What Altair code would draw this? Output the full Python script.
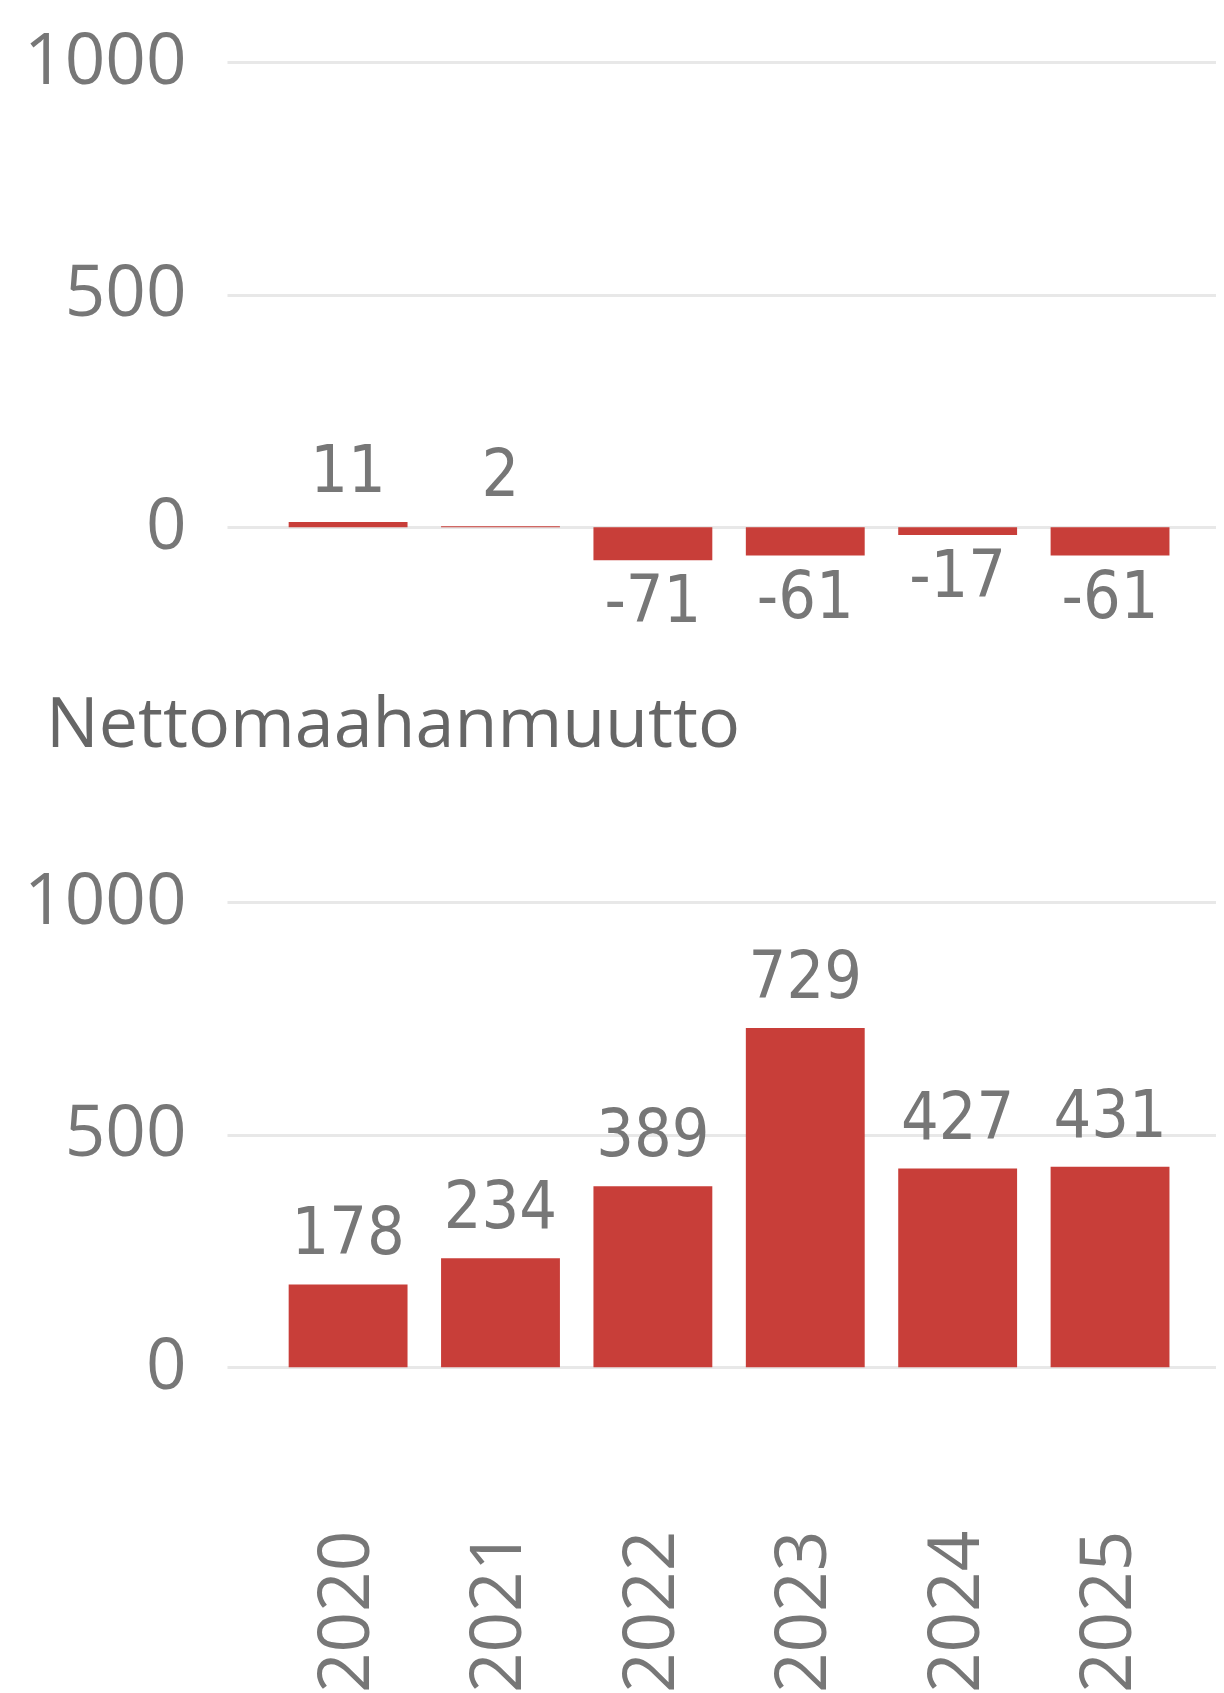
import altair as alt
import pandas as pd

# ---- data ----
years = ["2020", "2021", "2022", "2023", "2024", "2025"]
top_values = [11, 2, -71, -61, -17, -61]
net_immigration = [178, 234, 389, 729, 427, 431]
bottom_title = "Nettomaahanmuutto"
y_ticks = [0, 500, 1000]

RED = "#C83E39"
GRID = "#E8E8E8"
LABEL = "#777777"
TITLE = "#666666"
AXIS_FONT = "Open Sans"
VALUE_FONT = "Liberation Sans Narrow, DejaVu Sans Condensed, sans-serif"

top_df = pd.DataFrame({"year": years, "value": top_values})
bot_df = pd.DataFrame({"year": years, "value": net_immigration})

PLOT_W = 989


def x_scale():
    return alt.Scale(domain=years, paddingInner=0.22, paddingOuter=0.355, align=0.57)


def y_axis():
    return alt.Axis(values=y_ticks, format="d", title=None, grid=True, gridColor=GRID,
                    gridWidth=3, domain=False, ticks=False, labelFont=AXIS_FONT,
                    labelFontSize=71, labelColor=LABEL, labelPadding=41, labelLimit=500)


def panel(df, domain, height, x_axis):
    base = alt.Chart(df).transform_calculate(
        label="'' + datum.value"
    ).encode(
        x=alt.X("year:N", sort=years, scale=x_scale(), axis=x_axis)
    )
    yenc = alt.Y("value:Q", scale=alt.Scale(domain=domain, nice=False), axis=y_axis())
    bars = base.mark_bar(color=RED).encode(y=yenc)
    pos = base.transform_filter("datum.value >= 0").mark_text(
        baseline="alphabetic", dy=-30, font=VALUE_FONT, fontSize=66, color=LABEL
    ).encode(y=alt.Y("value:Q"), text=alt.Text("label:N"))
    neg = base.transform_filter("datum.value < 0").mark_text(
        baseline="top", dy=10, font=VALUE_FONT, fontSize=66, color=LABEL
    ).encode(y=alt.Y("value:Q"), text=alt.Text("label:N"))
    return alt.layer(bars, pos, neg).properties(width=PLOT_W, height=height)


top = panel(top_df, [-220, 1000], 567.5, None)

year_axis = alt.Axis(title=None, labelAngle=270, labelFont=AXIS_FONT, labelFontSize=71,
                     labelColor=LABEL, labelPadding=163, labelLimit=500, ticks=False,
                     domain=False, grid=False)
bottom = panel(bot_df, [0, 1000], 465.2, year_axis).properties(
    title=alt.TitleParams(bottom_title, anchor="start", frame="group", dx=-181,
                          baseline="alphabetic", offset=49, font=AXIS_FONT,
                          fontSize=70, fontWeight="normal", color=TITLE)
)

chart = alt.vconcat(top, bottom, spacing=55).properties(
    padding={"left": 15, "top": 18, "right": 0, "bottom": 0}
).configure_view(stroke=None).configure_concat(spacing=55)

chart.save("out.html", embed_options={"renderer": "svg", "actions": False})
